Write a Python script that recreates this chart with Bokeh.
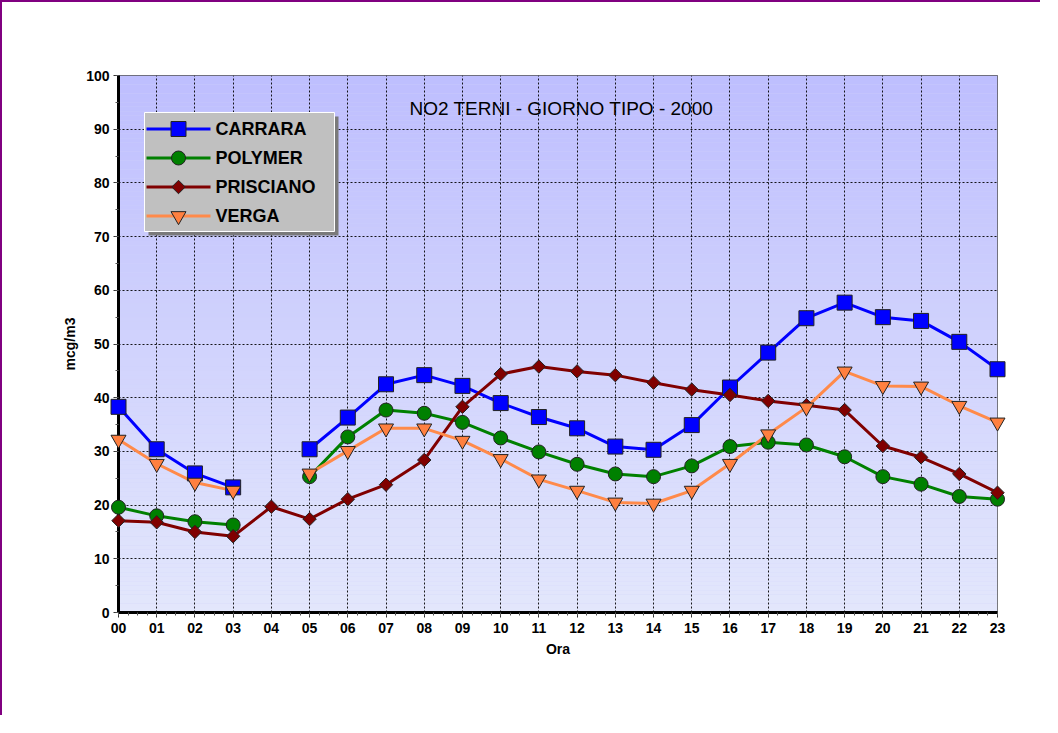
import numpy as np
from bokeh.plotting import figure
from bokeh.models import Range1d, FixedTicker, Label
from bokeh.core.properties import value
from bokeh.embed import file_html
from bokeh.resources import INLINE

nan = float("nan")

# ---------------- data ----------------
hours = list(range(24))
hour_labels = [f"{h:02d}" for h in hours]
series_names = ["CARRARA", "POLYMER", "PRISCIANO", "VERGA"]
carrara = [38.3, 30.4, 25.9, 23.3, nan, 30.4, 36.3, 42.5, 44.2, 42.2, 39.0, 36.4,
           34.3, 30.9, 30.3, 34.9, 41.9, 48.4, 54.8, 57.7, 55.0, 54.3, 50.4, 45.3]
polymer = [19.6, 18.0, 16.9, 16.3, nan, 25.3, 32.7, 37.7, 37.1, 35.4, 32.5, 29.9,
           27.6, 25.8, 25.3, 27.3, 30.9, 31.7, 31.2, 29.0, 25.3, 23.9, 21.6, 21.1]
prisciano = [17.1, 16.8, 15.0, 14.2, 19.7, 17.4, 21.1, 23.8, 28.4, 38.3, 44.4, 45.8,
             44.9, 44.2, 42.8, 41.5, 40.5, 39.4, 38.6, 37.7, 31.0, 28.9, 25.8, 22.3]
verga = [32.2, 27.7, 24.2, 22.7, nan, 25.9, 30.1, 34.3, 34.3, 32.0, 28.6, 24.8,
         22.7, 20.5, 20.3, 22.7, 27.7, 33.2, 38.2, 44.9, 42.2, 42.1, 38.5, 35.4]
y_ticks = list(range(0, 101, 10))
title_text = "NO2 TERNI - GIORNO TIPO - 2000"
x_title = "Ora"
y_title = "mcg/m3"

# ---------------- layout ----------------
W, H = 1040, 715
ML, MT, MR, MB = 116, 73, 45, 105
FRAME_W = W - ML - MR
FRAME_H = H - MT - MB
X0, X1 = 0, 23
Y0, Y1 = 0, 100
sx = (X1 - X0) / FRAME_W
sy = (Y1 - Y0) / FRAME_H


def dx(px):
    return X0 + px * sx


def dy(py):
    return Y0 + py * sy


p = figure(width=W, height=H, output_backend="svg", toolbar_location=None,
           x_range=Range1d(X0, X1), y_range=Range1d(Y0, Y1),
           min_border_left=ML, min_border_right=MR, min_border_top=MT, min_border_bottom=MB,
           background_fill_color="#d0d2fb", border_fill_color="white")
p.styles = {"border-left": "2px solid #800080", "border-top": "2px solid #800080"}
p.outline_line_color = "#555555"
p.outline_line_width = 1

# background gradient
n_strips = 120
edges = np.linspace(Y0, Y1, n_strips + 1)
top_c = np.array([190, 190, 254])
bot_c = np.array([227, 231, 252])
cols = []
for i in range(n_strips):
    t = (edges[i] + edges[i + 1]) / 2 / (Y1 - Y0)
    c = bot_c + (top_c - bot_c) * t
    cols.append("#%02x%02x%02x" % tuple(int(round(v)) for v in c))
p.quad(left=X0, right=X1, bottom=edges[:-1], top=edges[1:], fill_color=cols,
       line_color=None, level="image")

# axes
font = "Liberation Sans"
xt = FixedTicker(ticks=hours, minor_ticks=list(np.arange(X0, X1 + 0.001, 0.25)))
yt = FixedTicker(ticks=y_ticks, minor_ticks=list(range(0, 101, 5)))
p.xaxis.ticker = xt
p.yaxis.ticker = yt
p.xaxis.major_label_overrides = {h: l for h, l in zip(hours, hour_labels)}
p.xgrid.ticker = FixedTicker(ticks=hours)
p.ygrid.ticker = FixedTicker(ticks=y_ticks)
for ax in (p.xaxis, p.yaxis):
    ax.axis_line_width = 3
    ax.axis_line_color = "black"
    ax.major_tick_in = 0
    ax.major_tick_out = 5
    ax.minor_tick_in = 0
    ax.minor_tick_out = 3
    ax.major_tick_line_color = "#333333"
    ax.minor_tick_line_color = "#555555"
    ax.major_label_text_font = font
    ax.major_label_text_font_style = "bold"
    ax.major_label_text_font_size = "14px"
    ax.major_label_text_color = "black"
    ax.axis_label_text_font = font
    ax.axis_label_text_font_style = "bold"
    ax.axis_label_text_font_size = "14px"
    ax.axis_label_text_color = "black"
    ax.axis_label_standoff = 5
p.xaxis.major_label_standoff = 5
p.yaxis.major_label_standoff = 4
p.xaxis.axis_label = x_title
p.yaxis.axis_label = y_title

for g in (p.xgrid, p.ygrid):
    g.grid_line_color = "black"
    g.grid_line_dash = "2 2"
    g.grid_line_width = 1
    g.grid_line_alpha = 0.9

# series
styles = [
    (carrara, "#0000ff", "#0000ff", "square", 15, 0.0),
    (polymer, "#008000", "#008000", "circle", 14, 0.0),
    (prisciano, "#800000", "#800000", "square", 9.5, np.pi / 4),
    (verga, "#ff8a4a", "#ff8040", "inverted_triangle", 15, 0.0),
]
for vals, lc, fc, marker, size, ang in styles:
    p.line(hours, vals, line_color=lc, line_width=3)
    p.scatter(hours, vals, marker=marker, size=size, angle=ang,
              fill_color=fc, line_color="#222222", line_width=1, level="overlay")

# title
p.add_layout(Label(x=11.59, y=93.8, text=title_text, text_align="center",
                   text_baseline="alphabetic", text_font=font,
                   text_font_size="19px", text_color="black"))

# legend box (drawn from glyphs so the markers match the plotted ones)
LEG_X, LEG_Y = 26, 381           # px from frame's bottom-left corner
PAD, ROW, GW, STANDOFF = 2, 29, 64, 5
LEG_W, LEG_H = 190, 2 * PAD + 4 * ROW - 1
p.quad(left=dx(LEG_X + 4), right=dx(LEG_X + LEG_W + 4), bottom=dy(LEG_Y - 4),
       top=dy(LEG_Y + LEG_H - 4), fill_color="#7a7a7a", line_color=None, level="overlay")
p.quad(left=dx(LEG_X), right=dx(LEG_X + LEG_W), bottom=dy(LEG_Y), top=dy(LEG_Y + LEG_H),
       fill_color="#c0c0c0", line_color="white", line_width=1, level="overlay")
for k, (name, (vals, lc, fc, marker, size, ang)) in enumerate(zip(series_names, styles)):
    cy = dy(LEG_Y + LEG_H - PAD - k * ROW - ROW / 2)
    p.segment(x0=dx(LEG_X + PAD), x1=dx(LEG_X + PAD + GW), y0=cy, y1=cy,
              line_color=lc, line_width=3, level="overlay")
    p.scatter([dx(LEG_X + PAD + GW / 2)], [cy], marker=marker, size=size, angle=ang,
              fill_color=fc, line_color="#222222", line_width=1, level="overlay")
    p.text([dx(LEG_X + PAD + GW + STANDOFF)], [cy], text=[name], text_align="left",
           text_baseline="middle", text_font=value(font), text_font_style="bold",
           text_font_size="18px", text_color="black", level="overlay")

open("out.html", "w").write(file_html(p, INLINE))
